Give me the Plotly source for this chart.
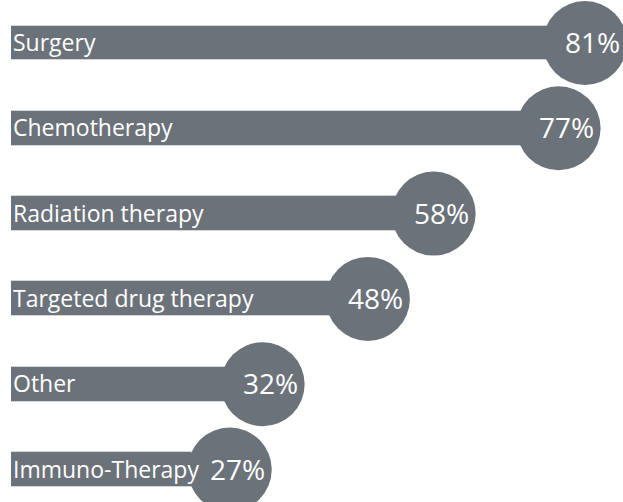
import plotly.graph_objects as go

# treatment options and share of patients (%)
treatments = ["Surgery", "Chemotherapy", "Radiation therapy",
              "Targeted drug therapy", "Other", "Immuno-Therapy"]
shares = [81, 77, 58, 48, 32, 27]
share_labels = [f"{v}%" for v in shares]

GREY = "#6b727a"
FONT = "Open Sans"

fig = go.Figure()

# long bars carrying the category names
fig.add_trace(go.Bar(
    x=shares, y=treatments, orientation="h",
    marker=dict(color=GREY, line=dict(color="#d3d6d9", width=1)),
    width=0.41, hoverinfo="skip", xaxis="x", yaxis="y",
))

# round badges at the end of each bar
fig.add_trace(go.Scatter(
    x=shares, y=treatments, mode="markers",
    marker=dict(size=84, color=GREY, line=dict(width=0)),
    cliponaxis=False, hoverinfo="skip", xaxis="x2", yaxis="y",
))

annotations = []
for name, val, lab in zip(treatments, shares, share_labels):
    annotations.append(dict(
        x=0, y=name, xref="x", yref="y", text=name, showarrow=False,
        xanchor="left", xshift=0, yshift=1,
        font=dict(family=FONT, size=23, color="white"),
    ))
    annotations.append(dict(
        x=val, y=name, xref="x2", yref="y", text=lab, showarrow=False,
        xanchor="center", xshift=8, yshift=1,
        font=dict(family=FONT, size=28, color="white"),
    ))

fig.update_layout(
    width=623, height=502, autosize=False,
    margin=dict(l=11, r=0, t=0, b=0),
    paper_bgcolor="white", plot_bgcolor="white",
    showlegend=False, bargap=0,
    annotations=annotations,
    xaxis=dict(range=[0, 91.07], visible=False, fixedrange=True),
    xaxis2=dict(range=[-6.26, 86.79], overlaying="x", visible=False, fixedrange=True),
    yaxis=dict(categoryorder="array", categoryarray=treatments,
               range=[5.381, -0.504], visible=False, fixedrange=True),
)

# drop the page's default body margin so the chart sits flush in the window
fig.write_html("out.html", config={"displayModeBar": False},
               post_script="document.body.style.margin='0';")
